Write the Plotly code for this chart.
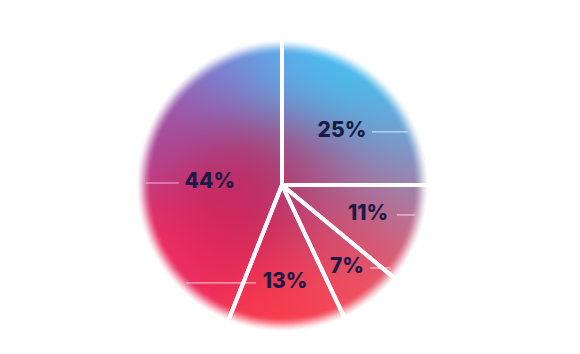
import numpy as np
import plotly.graph_objects as go

labels = ["25%", "11%", "7%", "13%", "44%"]
values = [25, 11, 7, 13, 44]

W, H = 580, 354
CX, CY, R = 282, 185, 139

# styling for label placement (radius fraction, angle offset in degrees, leader side, text half-width)
label_rf = [0.576, 0.655, 0.758, 0.705, 0.52]
label_dang = [3.5, -0.6, -0.3, 0.0, -9.2]
leader_side = [1, 1, 1, -1, -1]
label_half = [24, 23, 17, 23, 25]

# soft gradient backdrop (decorative)
anchors = [
    (345, 60, (58, 200, 244)),
    (400, 110, (80, 190, 238)),
    (290, 70, (95, 175, 235)),
    (215, 75, (122, 130, 216)),
    (165, 130, (172, 72, 152)),
    (310, 170, (150, 92, 145)),
    (395, 155, (125, 145, 200)),
    (245, 175, (178, 35, 88)),
    (240, 215, (222, 32, 88)),
    (170, 255, (240, 48, 98)),
    (285, 305, (250, 58, 74)),
    (360, 285, (250, 88, 94)),
    (405, 210, (192, 120, 150)),
    (345, 235, (215, 62, 100)),
]
S = 2 * R + 30
xs = np.arange(S) + CX - S / 2
ys = np.arange(S) + CY - S / 2
X, Y = np.meshgrid(xs, ys)
num = np.zeros((S, S, 3))
den = np.zeros((S, S))
sig = 45.0
for ax_, ay_, col in anchors:
    w = np.exp(-((X - ax_) ** 2 + (Y - ay_) ** 2) / (2 * sig ** 2)) + 1e-12
    num += w[..., None] * np.array(col)
    den += w
rgb = num / den[..., None]
r = np.sqrt((X - CX) ** 2 + (Y - CY) ** 2)
t = np.clip((R - r) / 16 + 0.5, 0, 1)
alpha = t * t * (3 - 2 * t)
img = np.concatenate([rgb, alpha[..., None]], axis=2)

fig = go.Figure()
fig.add_trace(go.Image(z=img, colormodel="rgba", x0=xs[0], y0=ys[0], dx=1, dy=1,
                       zmax=[255, 255, 255, 1], zmin=[0, 0, 0, 0], hoverinfo="skip"))

PR = R + 9
fig.add_trace(go.Pie(
    labels=labels, values=values, sort=False, direction="clockwise", rotation=0,
    marker=dict(colors=["rgba(0,0,0,0)"] * 5, line=dict(color="white", width=4)),
    textinfo="none",
    domain=dict(x=[(CX - PR) / W, (CX + PR) / W], y=[(H - CY - PR) / H, (H - CY + PR) / H]),
    showlegend=False, hoverinfo="skip",
))

# labels and leader lines computed from the values
total = sum(values)
cum = 0
tx, ty = [], []
lx, ly = [], []
for v, rf, da, side, hw in zip(values, label_rf, label_dang, leader_side, label_half):
    mid = (cum + v / 2) / total * 2 * np.pi + np.radians(da)
    cum += v
    px = CX + rf * R * np.sin(mid)
    py = CY - rf * R * np.cos(mid)
    tx.append(px)
    ty.append(py)
    dy = py - CY
    edge = CX + side * np.sqrt(max(R * R - dy * dy, 0)) - side * 3
    start = px + side * (hw + 6)
    lx += [start, edge, None]
    ly += [py, py, None]

fig.add_trace(go.Scatter(x=lx, y=ly, mode="lines", line=dict(color="rgba(255,255,255,0.65)", width=1.2),
                         hoverinfo="skip", showlegend=False))
fig.add_trace(go.Scatter(x=tx, y=ty, mode="text", text=labels,
                         textfont=dict(family="Inter", size=21, color="#1b1a46", weight=800),
                         hoverinfo="skip", showlegend=False))

fig.update_layout(
    width=W, height=H, margin=dict(l=0, r=0, t=0, b=0),
    paper_bgcolor="white", plot_bgcolor="white",
    xaxis=dict(range=[0, W], visible=False, domain=[0, 1]),
    yaxis=dict(range=[H, 0], visible=False, domain=[0, 1]),
)
fig.write_html("out.html")
